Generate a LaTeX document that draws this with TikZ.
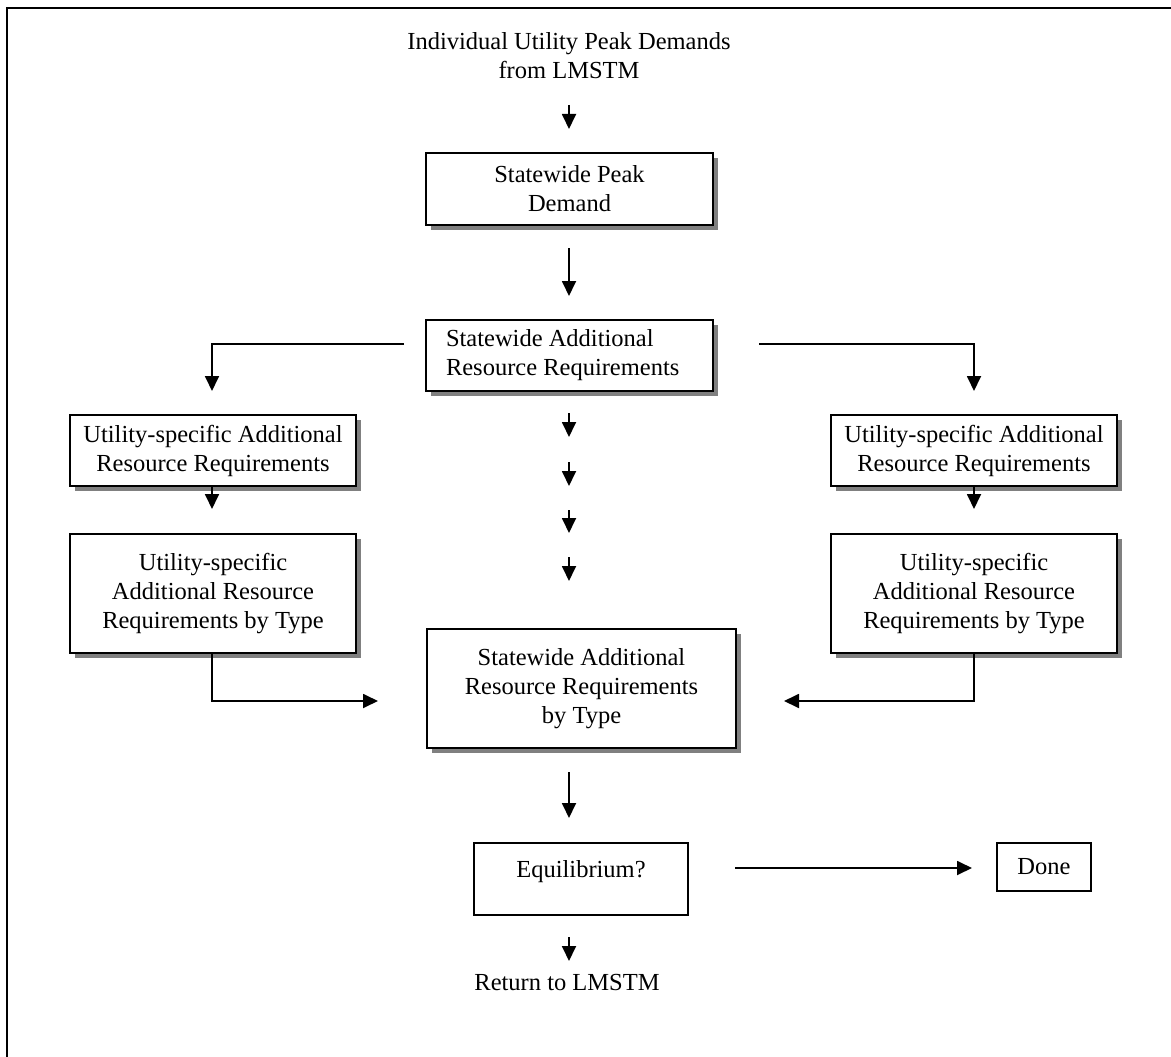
\documentclass[tikz,border=0pt]{standalone}
\usepackage{fontspec}
\setmainfont{Liberation Serif}
\usetikzlibrary{arrows.meta,shadows}
\newcommand{\boxfont}{\fontsize{24.5}{29}\selectfont}
\tikzset{
  box/.style={draw, line width=1.8pt, fill=white, inner sep=0pt, align=center, font=\boxfont},
  shbox/.style={box, drop shadow={shadow xshift=5pt, shadow yshift=-5pt, fill=black!50, opacity=1}},
  arr/.style={-{Triangle[width=14pt,length=15pt]}, line width=1.8pt},
  lbl/.style={font=\boxfont, align=center, inner sep=0pt},
  frame/.style={line width=2.7pt}
}
\begin{document}
\begin{tikzpicture}[x=1pt,y=-1pt]
\useasboundingbox[fill=white] (0,0) rectangle (1171,1057);
% frame (top and left edges)
\coordinate (fr1) at (1175,8);
\coordinate (fr2) at (7,8);
\coordinate (fr3) at (7,1062);
\draw[frame] (fr1) -- (fr2) -- (fr3);

% nodes
\node[lbl] (src) at (569,56) {Individual Utility Peak Demands\\from LMSTM};
\node[shbox, minimum width=287pt, minimum height=72pt] (peak) at (569.5,189) {Statewide Peak\\Demand};
\node[shbox, minimum width=287pt, minimum height=71pt, text width=247pt, align=flush left] (sar) at (569.5,355.5) {Statewide Additional\\Resource Requirements};
\node[shbox, minimum width=286pt, minimum height=71pt] (ul1) at (213,450.5) {Utility-specific Additional\\Resource Requirements};
\node[shbox, minimum width=286pt, minimum height=119pt] (ul2) at (213,593.5) {Utility-specific\\Additional Resource\\Requirements by Type};
\node[shbox, minimum width=286pt, minimum height=71pt] (ur1) at (974,450.5) {Utility-specific Additional\\Resource Requirements};
\node[shbox, minimum width=286pt, minimum height=119pt] (ur2) at (974,593.5) {Utility-specific\\Additional Resource\\Requirements by Type};
\node[shbox, minimum width=309pt, minimum height=119pt] (sbt) at (581.5,688.5) {Statewide Additional\\Resource Requirements\\by Type};
\node[draw, line width=1.8pt, inner sep=0pt, font=\boxfont, minimum width=214pt, minimum height=72pt, text height=17pt, text depth=21pt] (eq) at (581,879) {Equilibrium?};
\node[box, minimum width=94pt, minimum height=48pt] (done) at (1044,867) {Done};
\node[lbl] (ret) at (567,983) {Return to LMSTM};

% coordinates for free arrow ends
\coordinate (a0s) at (569,105); \coordinate (a0e) at (569,129);
\coordinate (a1s) at (569,248); \coordinate (a1e) at (569,296);
\coordinate (bl) at (404,344);  \coordinate (bltip) at (212,391);
\coordinate (br) at (759,344);  \coordinate (brtip) at (974,391);
\coordinate (ul1tip) at (212,509);
\coordinate (ur1tip) at (974,509);
\coordinate (lin) at (378,701);
\coordinate (rin) at (784,701);
\coordinate (c1s) at (569,413); \coordinate (c1e) at (569,437);
\coordinate (c2s) at (569,462); \coordinate (c2e) at (569,486);
\coordinate (c3s) at (569,510); \coordinate (c3e) at (569,533);
\coordinate (c4s) at (569,557); \coordinate (c4e) at (569,581);
\coordinate (a2s) at (569,772); \coordinate (a2e) at (569,818);
\coordinate (eqs) at (735,868); \coordinate (eqe) at (972,868);
\coordinate (r1) at (569,937); \coordinate (r2) at (569,961);

% connectors
\draw[arr] (a0s) -- (a0e);
\draw[arr] (a1s) -- (a1e);
\draw[arr] (bl) -| (bltip);
\draw[arr] (br) -| (brtip);
\draw[arr] (ul1.south -| ul1tip) -- (ul1tip);
\draw[arr] (ur1.south -| ur1tip) -- (ur1tip);
\draw[arr] (ul2.south -| ul1tip) |- (lin);
\draw[arr] (ur2.south -| ur1tip) |- (rin);
\draw[arr] (c1s) -- (c1e);
\draw[arr] (c2s) -- (c2e);
\draw[arr] (c3s) -- (c3e);
\draw[arr] (c4s) -- (c4e);
\draw[arr] (a2s) -- (a2e);
\draw[arr] (eqs) -- (eqe);
\draw[arr] (r1) -- (r2);
\end{tikzpicture}
\end{document}
